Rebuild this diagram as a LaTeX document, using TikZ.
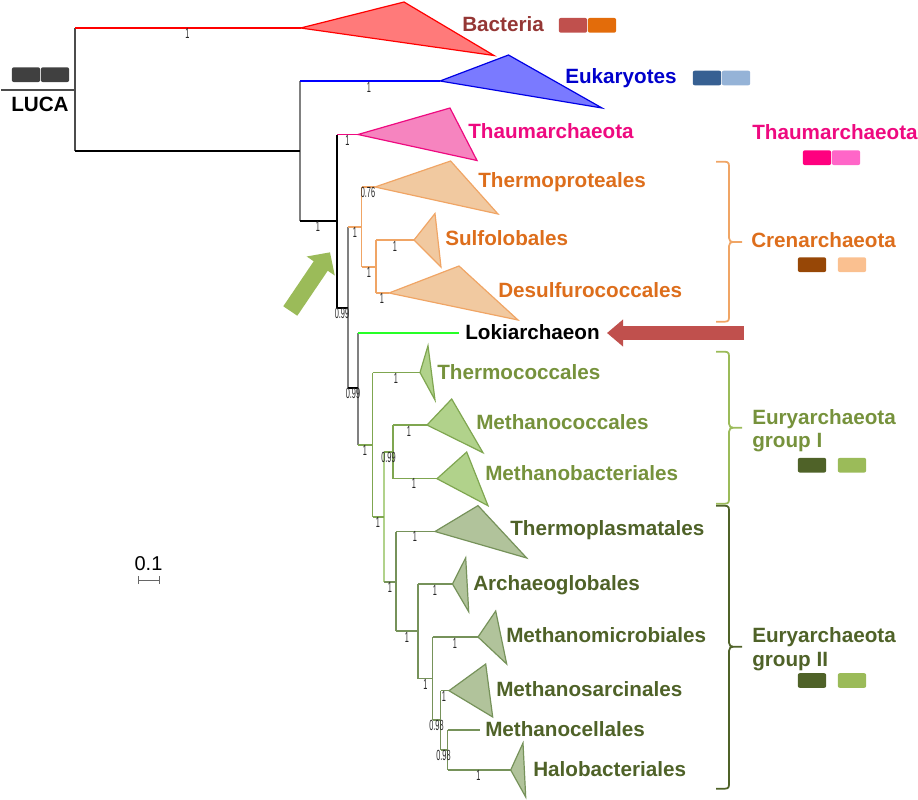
\documentclass[tikz,border=0pt]{standalone}
\usepackage{fontspec}
\setmainfont{Liberation Sans}
\newfontfamily\supfont[FakeStretch=0.5]{Liberation Sans}
\usetikzlibrary{arrows.meta}
\definecolor{bactxt}{HTML}{953735}
\definecolor{euktxt}{HTML}{0000CC}
\definecolor{thatxt}{HTML}{EE0A80}
\definecolor{cretxt}{HTML}{DD6E1C}
\definecolor{eu1txt}{HTML}{76923C}
\definecolor{eu2txt}{HTML}{4F6228}
\definecolor{crestroke}{HTML}{F0A565}
\definecolor{crefill}{HTML}{F1C9A0}
\definecolor{eu1stroke}{HTML}{7FA650}
\definecolor{eu1fill}{HTML}{B1D28B}
\definecolor{eu2stroke}{HTML}{76925A}
\definecolor{eu2fill}{HTML}{B1C39B}
\definecolor{keyred}{HTML}{C0504D}
\definecolor{keyorange}{HTML}{E36C0A}
\definecolor{keyblue}{HTML}{376092}
\definecolor{keysky}{HTML}{95B3D7}
\definecolor{keypink}{HTML}{FF007F}
\definecolor{keyrose}{HTML}{FF66C8}
\definecolor{keybrown}{HTML}{974706}
\definecolor{keypeach}{HTML}{FAC090}
\definecolor{keylime}{HTML}{9BBB59}
\tikzset{
  taxon/.style={anchor=base west,inner sep=0pt,font=\fontsize{15.5pt}{18pt}\selectfont\bfseries},
  support/.style={inner sep=0pt,color=black!85,font=\fontsize{11pt}{11pt}\supfont},
  swatch/.style={rectangle,rounded corners=1.5pt,inner sep=0pt,minimum width=21.3pt,minimum height=11pt},
  branch/.style={line width=0.8pt},
  clade/.style={line width=0.9pt,line join=miter},
  curly/.style={line width=1.3pt}
}
\newcommand{\curlybrace}[4]{
  \draw[curly,#1] (716,#2) -- (722,#2) .. controls (727,#2) and (729,#2) .. (729,#2+4) -- (729,#3-4)
    .. controls (729,#3-1) and (731,#3) .. (733,#3) -- (742,#3);
  \draw[curly,#1] (733,#3) .. controls (731,#3) and (729,#3+1) .. (729,#3+4) -- (729,#4-4)
    .. controls (729,#4) and (727,#4) .. (722,#4) -- (716,#4);
}
\begin{document}
\begin{tikzpicture}[x=0.75pt,y=-0.75pt]
    \useasboundingbox (0,0) rectangle (918,800);
    % tree junctions and clade tips
    \coordinate (start) at (1,90);
    \coordinate (root) at (75,90);
    \coordinate (bac) at (300.7,28);
    \coordinate (main) at (300,151);
    \coordinate (euk) at (440,81);
    \coordinate (arch) at (337,221);
    \coordinate (tha) at (358,134.5);
    \coordinate (rest) at (348,308);
    \coordinate (cre) at (361.7,227);
    \coordinate (tpr) at (375,187);
    \coordinate (sulde) at (376,267);
    \coordinate (sul) at (414,240);
    \coordinate (des) at (389,293);
    \coordinate (lokeur) at (358,388);
    \coordinate (lok) at (459,333);
    \coordinate (eur) at (372.5,445);
    \coordinate (tco) at (420,372.5);
    \coordinate (eurb) at (384,517);
    \coordinate (meth) at (393,452);
    \coordinate (mco) at (427,425);
    \coordinate (mba) at (437,478.7);
    \coordinate (gtwo) at (396,582);
    \coordinate (tpl) at (435,531.5);
    \coordinate (gtwob) at (418,631);
    \coordinate (agl) at (452.5,584);
    \coordinate (gtwoc) at (432.5,678.7);
    \coordinate (mmi) at (478,637);
    \coordinate (gtwod) at (440.7,720);
    \coordinate (msa) at (449,690.7);
    \coordinate (gtwoe) at (447.5,750);
    \coordinate (mce) at (480,730);
    \coordinate (hal) at (510.7,770);
    % verticals
    \draw[branch,color=black!70] (root |- bac) -- (root |- main);
    \draw[branch,color=gray] (main |- euk) -- (main |- arch);
    \draw[branch,color=black] (arch |- tha) -- (arch |- rest);
    \draw[branch,color=gray] (rest |- cre) -- (rest |- lokeur);
    \draw[branch,color=crestroke] (cre |- tpr) -- (cre |- sulde);
    \draw[branch,color=crestroke] (sulde |- sul) -- (sulde |- des);
    \draw[branch,color=gray] (lokeur |- lok) -- (lokeur |- eur);
    \draw[branch,color=eu1stroke] (eur |- tco) -- (eur |- eurb);
    \draw[branch,color=eu1fill] (eurb |- meth) -- (eurb |- gtwo);
    \draw[branch,color=eu1stroke] (meth |- mco) -- (meth |- mba);
    \draw[branch,color=eu2stroke] (gtwo |- tpl) -- (gtwo |- gtwob);
    \draw[branch,color=eu2stroke] (gtwob |- agl) -- (gtwob |- gtwoc);
    \draw[branch,color=eu2stroke] (gtwoc |- mmi) -- (gtwoc |- gtwod);
    \draw[branch,color=eu2stroke] (gtwod |- msa) -- (gtwod |- gtwoe);
    \draw[branch,color=eu2stroke] (gtwoe |- mce) -- (gtwoe |- hal);
    % horizontals
    \draw[branch,color=black!70] (start) -- (root);
    \draw[branch,color=red] (root |- bac) -- (bac);
    \draw[branch,color=black] (root |- main) -- (main);
    \draw[branch,color=blue] (main |- euk) -- (euk);
    \draw[branch,color=black] (main |- arch) -- (arch);
    \draw[branch,color=thatxt] (arch |- tha) -- (tha);
    \draw[branch,color=black] (arch |- rest) -- (rest);
    \draw[branch,color=crestroke] (rest |- cre) -- (cre);
    \draw[branch,color=crestroke] (cre |- tpr) -- (tpr);
    \draw[branch,color=crestroke] (cre |- sulde) -- (sulde);
    \draw[branch,color=crestroke] (sulde |- sul) -- (sul);
    \draw[branch,color=crestroke] (sulde |- des) -- (des);
    \draw[branch,color=black] (rest |- lokeur) -- (lokeur);
    \draw[branch,line width=1.1pt,color=green!85!white] (lokeur |- lok) -- (lok);
    \draw[branch,color=eu1stroke] (lokeur |- eur) -- (eur);
    \draw[branch,color=eu1stroke] (eur |- tco) -- (tco);
    \draw[branch,color=eu1stroke] (eur |- eurb) -- (eurb);
    \draw[branch,color=eu1stroke] (eurb |- meth) -- (meth);
    \draw[branch,color=eu1stroke] (meth |- mco) -- (mco);
    \draw[branch,color=eu1stroke] (meth |- mba) -- (mba);
    \draw[branch,color=eu2stroke] (eurb |- gtwo) -- (gtwo);
    \draw[branch,color=eu2stroke] (gtwo |- tpl) -- (tpl);
    \draw[branch,color=eu2stroke] (gtwo |- gtwob) -- (gtwob);
    \draw[branch,color=eu2stroke] (gtwob |- agl) -- (agl);
    \draw[branch,color=eu2stroke] (gtwob |- gtwoc) -- (gtwoc);
    \draw[branch,color=eu2stroke] (gtwoc |- mmi) -- (mmi);
    \draw[branch,color=eu2stroke] (gtwoc |- gtwod) -- (gtwod);
    \draw[branch,color=eu2stroke] (gtwod |- msa) -- (msa);
    \draw[branch,color=eu2stroke] (gtwod |- gtwoe) -- (gtwoe);
    \draw[branch,color=eu2stroke] (gtwoe |- mce) -- (mce);
    \draw[branch,color=eu2stroke] (gtwoe |- hal) -- (hal);
    % collapsed clades
    \filldraw[clade,draw=red,fill=red!52] (bac) -- (404,2) -- (494,55.5) -- cycle;
    \filldraw[clade,draw=blue!90!black,fill=blue!52] (euk) -- (508.5,55) -- (602,108) -- cycle;
    \filldraw[clade,draw=thatxt,fill=thatxt!50] (tha) -- (450,108) -- (477,160.5) -- cycle;
    \filldraw[clade,draw=crestroke,fill=crefill] (tpr) -- (450.6,161) -- (498,214) -- cycle;
    \filldraw[clade,draw=crestroke,fill=crefill] (sul) -- (435,213.5) -- (441,267) -- cycle;
    \filldraw[clade,draw=crestroke,fill=crefill] (des) -- (459,266) -- (518,320) -- cycle;
    \filldraw[clade,draw=eu1stroke,fill=eu1fill] (tco) -- (428,345.7) -- (435,400) -- cycle;
    \filldraw[clade,draw=eu1stroke,fill=eu1fill] (mco) -- (451.7,399) -- (483,452.7) -- cycle;
    \filldraw[clade,draw=eu1stroke,fill=eu1fill] (mba) -- (466.7,452) -- (488,505.7) -- cycle;
    \filldraw[clade,draw=eu2stroke,fill=eu2fill] (tpl) -- (478,505.6) -- (526.7,558) -- cycle;
    \filldraw[clade,draw=eu2stroke,fill=eu2fill] (agl) -- (465.7,557.7) -- (468.7,611.7) -- cycle;
    \filldraw[clade,draw=eu2stroke,fill=eu2fill] (mmi) -- (495.7,611) -- (506.7,664) -- cycle;
    \filldraw[clade,draw=eu2stroke,fill=eu2fill] (msa) -- (485.7,664) -- (492.7,717) -- cycle;
    \filldraw[clade,draw=eu2stroke,fill=eu2fill] (hal) -- (523,743) -- (525.7,797) -- cycle;
    % support values
    \foreach \i/\x/\y/\v in {1/187.5/33/1,2/369/87/1,3/347.5/140/1,4/318/226/1,5/355/232/1,
        6/395/246/1,7/369/272/1,8/382/298/1,9/396/378/1,10/409/431.5/1,11/414/483.5/1,
        12/365/450/1,13/378/522/1,14/415/536.5/1,15/390/587/1,16/435/590/1,17/407/637/1,
        18/425.5/684/1,19/455/643/1,20/444/696/1,21/478.5/775/1,22/368/192/0.76,
        23/342/313/0.99,24/353/393.5/0.99,25/388.5/457.5/0.99,26/436.5/725.5/0.98,27/443.5/755.5/0.98}
        \node[support] (sup\i) at (\x,\y) {\v};
    % taxon labels
    \node[taxon,color=bactxt] (tbac) at (462,31) {Bacteria};
    \node[taxon,color=euktxt] (teuk) at (565,83) {Eukaryotes};
    \node[taxon,color=thatxt] (ttha) at (468,138) {Thaumarchaeota};
    \node[taxon,color=cretxt] (ttpr) at (478,187) {Thermoproteales};
    \node[taxon,color=cretxt] (tsul) at (445,245) {Sulfolobales};
    \node[taxon,color=cretxt] (tdes) at (498,297) {Desulfurococcales};
    \node[taxon,color=black] (tlok) at (465,339.5) {Lokiarchaeon};
    \node[taxon,color=eu1txt] (ttco) at (437,379) {Thermococcales};
    \node[taxon,color=eu1txt] (tmco) at (476,429) {Methanococcales};
    \node[taxon,color=eu1txt] (tmba) at (485,480) {Methanobacteriales};
    \node[taxon,color=eu2txt] (ttpl) at (510,535) {Thermoplasmatales};
    \node[taxon,color=eu2txt] (tagl) at (473,590) {Archaeoglobales};
    \node[taxon,color=eu2txt] (tmmi) at (506,642) {Methanomicrobiales};
    \node[taxon,color=eu2txt] (tmsa) at (496,696) {Methanosarcinales};
    \node[taxon,color=eu2txt] (tmce) at (485,736) {Methanocellales};
    \node[taxon,color=eu2txt] (thal) at (533,776) {Halobacteriales};
    \node[taxon,color=black] (tluca) at (11,111) {LUCA};
    % phylum labels
    \node[taxon,color=thatxt] (gtha) at (752,139) {Thaumarchaeota};
    \node[taxon,color=cretxt] (gcre) at (751,247) {Crenarchaeota};
    \node[taxon,color=eu1txt] (geua) at (752,424.3) {Euryarchaeota};
    \node[taxon,color=eu1txt] (geub) at (752,447.7) {group I};
    \node[taxon,color=eu2txt] (geuc) at (752,642.7) {Euryarchaeota};
    \node[taxon,color=eu2txt] (geud) at (752,666) {group II};
    % colour keys
    \foreach \n/\x/\y/\c in {l1/26/74.7/black!75,l2/55/74.7/black!75,
        b1/573/25.3/keyred,b2/602/25.3/keyorange,
        e1/707/78/keyblue,e2/736/78/keysky,
        t1/817/157.7/keypink,t2/846/157.7/keyrose,
        c1/812/264.7/keybrown,c2/852/264.7/keypeach,
        u1/812/465.2/eu2txt,u2/852/465.2/keylime,
        v1/812/680.5/eu2txt,v2/852/680.5/keylime}
        \node[swatch,fill=\c] (key\n) at (\x,\y) {};
    % clade braces
    \curlybrace{crestroke}{161.7}{242}{321.7}
    \curlybrace{keylime}{351.7}{427.7}{503.7}
    \curlybrace{eu2txt}{505.7}{646.7}{788.7}
    % pointers
    \coordinate (redtail) at (744,333);
    \coordinate (redtip) at (607,333);
    \draw[line width=10.1pt,color=keyred,-{Triangle[length=12pt,width=19.5pt]}] (redtail) -- (redtip);
    \coordinate (greentail) at (290.3,311);
    \coordinate (greentip) at (330,252.3);
    \draw[line width=12.7pt,color=keylime,-{Triangle[length=12.4pt,width=24.7pt]}] (greentail) -- (greentip);
    % scale
    \node[inner sep=0pt,font=\fontsize{15pt}{15pt}\selectfont] (scale) at (148.5,564) {0.1};
    \coordinate (scalea) at (137.7,580);
    \coordinate (scaleb) at (159.5,580);
    \draw[line width=0.6pt,color=black!60,{Bar[width=6pt]}-{Bar[width=6pt]}] (scalea) -- (scaleb);
\end{tikzpicture}
\end{document}
